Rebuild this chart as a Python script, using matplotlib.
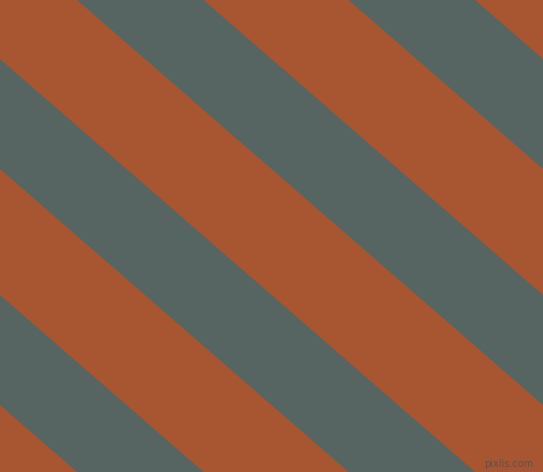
import numpy as np
from matplotlib import pyplot as plt

# stripe boundaries, as y-intercepts (pixels) of lines y = slope * x + c
slope = 472 / 543
edges = [-539, -413, -303, -177, -67, 59, 169, 295, 405, 531]
colors = ['#a85632', '#566462'] * 5

fig = plt.figure(figsize=(5.43, 4.72), dpi=100)
ax = fig.add_axes([0, 0, 1, 1])
ax.set_facecolor(colors[0])

x = np.array([0, 543])
for i in range(len(edges) - 1):
    if colors[i] == colors[0]:
        continue  # background shows through, avoids seams
    ax.fill_between(x, slope * x + edges[i], slope * x + edges[i + 1],
                    color=colors[i], linewidth=0)

ax.set_xlim(0, 543)
ax.set_ylim(472, 0)
for s in ax.spines.values():
    s.set_visible(False)
ax.set_xticks([])
ax.set_yticks([])

ax.text(533, 464, 'pixlis.com', fontsize=7, color='#505050', alpha=0.85,
        ha='right', va='center')

plt.savefig('out.png', dpi=100)
